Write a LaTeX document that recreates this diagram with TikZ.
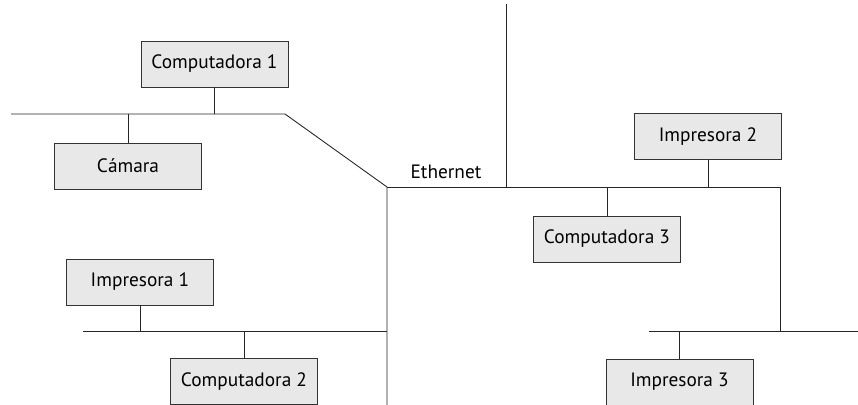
\documentclass[tikz,border=0pt]{standalone}
\usepackage{fontspec}
\setmainfont{PT Sans}
\usepackage{tikz}
\usetikzlibrary{positioning}
\tikzset{
  devbox/.style={rectangle,draw=black!80,fill=black!9,line width=0.55pt,minimum width=2.94cm,minimum height=0.92cm,inner sep=0pt,font=\fontsize{11}{13}\selectfont},
  bus/.style={line width=0.5pt,draw=black!85},
  netlabel/.style={inner sep=1pt,font=\fontsize{11}{13}\selectfont}
}
\begin{document}
\begin{tikzpicture}[x=0.02cm,y=-0.02cm]
  \useasboundingbox (0,0) rectangle (858,405);

  \coordinate (westend) at (11,114);
  \coordinate (bend) at (285,114);
  \coordinate (hub) at (387,187);
  \coordinate (hubbottom) at (387,405);
  \coordinate (riser) at (506,4);
  \coordinate (join) at (506,187);
  \coordinate (eastcorner) at (780,187);
  \coordinate (eastdrop) at (780,331);
  \coordinate (sebusleft) at (649,331);
  \coordinate (sebusright) at (858,331);
  \coordinate (swbusleft) at (83,331);
  \coordinate (swbusright) at (387,331);

  \node[devbox] (comp1) at (214.5,64) {Computadora 1};
  \node[devbox] (camara) at (128,166) {Cámara};
  \node[devbox] (impr1) at (140,282) {Impresora 1};
  \node[devbox] (comp2) at (244,381.5) {Computadora 2};
  \node[devbox] (impr2) at (708,136.5) {Impresora 2};
  \node[devbox] (comp3) at (607,239) {Computadora 3};
  \node[devbox] (impr3) at (679.5,382) {Impresora 3};
  \node[netlabel] (eth) at (446,172) {Ethernet};

  \draw[bus] (westend) -- (bend) -- (hub) -- (hubbottom);
  \draw[bus] (riser) -- (join);
  \draw[bus] (hub) -- (eastcorner) -- (eastdrop);
  \draw[bus] (sebusleft) -- (sebusright);
  \draw[bus] (swbusleft) -- (swbusright);

  \draw[bus] (comp1.south) -- (comp1.south |- westend);
  \draw[bus] (camara.north) -- (camara.north |- westend);
  \draw[bus] (impr1.south) -- (impr1.south |- swbusleft);
  \draw[bus] (comp2.north) -- (comp2.north |- swbusleft);
  \draw[bus] (impr2.south) -- (impr2.south |- hub);
  \draw[bus] (comp3.north) -- (comp3.north |- hub);
  \draw[bus] (impr3.north) -- (impr3.north |- sebusleft);
\end{tikzpicture}
\end{document}
